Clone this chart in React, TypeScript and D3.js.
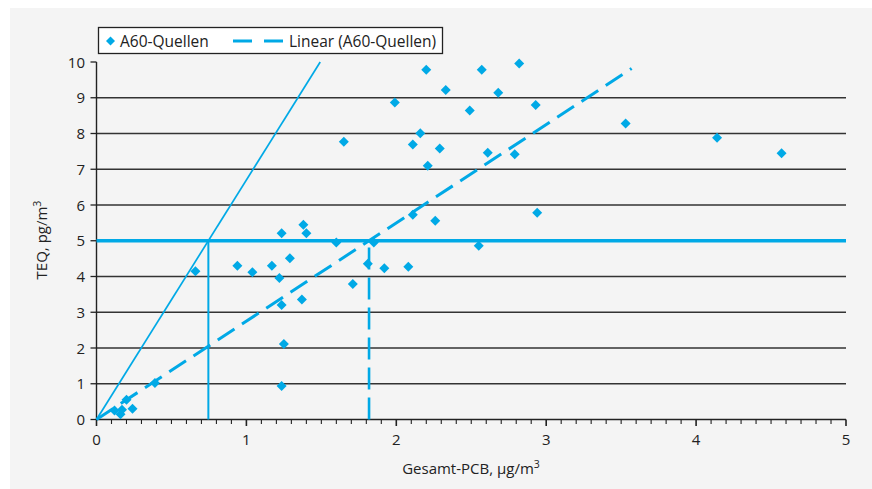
import * as d3 from 'd3';
import { useRef, useEffect } from 'react';

// Gesamt-PCB (µg/m3) vs TEQ (pg/m3) for the A60 sources
const pcb: number[] = [0.12, 0.16, 0.17, 0.20, 0.24, 0.39, 0.66, 0.94, 1.04, 1.17, 1.22, 1.235, 1.29, 1.38, 1.40, 1.235, 1.37, 1.25, 1.235, 1.60, 1.85, 1.81, 1.71, 1.92, 2.08, 2.20, 2.57, 2.82, 2.33, 2.68, 1.99, 2.49, 2.93, 3.53, 1.65, 2.16, 2.11, 2.29, 2.61, 2.79, 2.21, 2.11, 2.26, 2.94, 2.55, 4.14, 4.57];
const teq: number[] = [0.25, 0.15, 0.27, 0.55, 0.30, 1.02, 4.15, 4.30, 4.12, 4.30, 3.96, 5.21, 4.51, 5.45, 5.21, 3.20, 3.36, 2.11, 0.94, 4.95, 4.95, 4.36, 3.79, 4.23, 4.27, 9.78, 9.78, 9.96, 9.22, 9.14, 8.87, 8.64, 8.80, 8.28, 7.77, 8.01, 7.69, 7.58, 7.46, 7.42, 7.10, 5.73, 5.56, 5.78, 4.86, 7.88, 7.45];

const xTicks = [0, 1, 2, 3, 4, 5];
const yTicks = [0, 1, 2, 3, 4, 5, 6, 7, 8, 9, 10];

// linear fit through origin and the steep reference line
const trendSlope = 2.75;
const trendMaxX = 3.57;
const refSlope = 6.7;
const limitTEQ = 5;

const BLUE = '#00a9e6';
const FONT = '"Open Sans", sans-serif';

const Chart = () => {
	const ref: any = useRef();
	const W = 872, H = 489;
	const x = d3.scaleLinear().domain([0, 5]).range([96.5, 846]);
	const y = d3.scaleLinear().domain([0, 10]).range([419.5, 62]);

	useEffect(() => {
		const svg = d3.select(ref.current);
		svg.selectAll('*').remove();

		// panel
		svg.append('rect').attr('x', 10).attr('y', 8).attr('width', W - 10).attr('height', 481).attr('fill', '#f4f4f4');

		// gridlines
		svg.append('g').selectAll('line')
			.data(yTicks.filter(d => d > 0 && d < 10))
			.enter().append('line')
			.attr('x1', x(0)).attr('x2', x(5))
			.attr('y1', d => y(d)).attr('y2', d => y(d))
			.attr('stroke', '#333').attr('stroke-width', 1.3);

		// y axis
		svg.append('line').attr('x1', x(0)).attr('x2', x(0)).attr('y1', y(0)).attr('y2', y(10))
			.attr('stroke', '#222').attr('stroke-width', 1.4);
		svg.append('g').selectAll('line').data(yTicks).enter().append('line')
			.attr('x1', x(0) - 6).attr('x2', x(0))
			.attr('y1', d => y(d)).attr('y2', d => y(d))
			.attr('stroke', '#222').attr('stroke-width', 1.3);
		svg.append('g').selectAll('text').data(yTicks).enter().append('text')
			.attr('x', 85).attr('y', d => y(d) + 5.5)
			.attr('text-anchor', 'end')
			.style('font-family', FONT).style('font-size', '15px').attr('fill', '#222')
			.text(d => d);

		// x axis
		svg.append('line').attr('x1', x(0)).attr('x2', x(5)).attr('y1', y(0)).attr('y2', y(0))
			.attr('stroke', '#222').attr('stroke-width', 1.4);
		const minor = d3.range(0, 51).map(i => i / 10);
		svg.append('g').selectAll('line').data(minor).enter().append('line')
			.attr('x1', d => x(d)).attr('x2', d => x(d))
			.attr('y1', y(0)).attr('y2', (d, i) => y(0) + (i % 10 === 0 ? 6.5 : 4.5))
			.attr('stroke', '#222').attr('stroke-width', (d, i) => i % 10 === 0 ? 1.6 : 1.1);
		svg.append('g').selectAll('text').data(xTicks).enter().append('text')
			.attr('x', d => x(d)).attr('y', 445)
			.attr('text-anchor', 'middle')
			.style('font-family', FONT).style('font-size', '15px').attr('fill', '#222')
			.text(d => d);

		// axis titles
		const xt = svg.append('text').attr('x', 471).attr('y', 474).attr('text-anchor', 'middle')
			.style('font-family', FONT).style('font-size', '15px').attr('fill', '#222');
		xt.append('tspan').text('Gesamt-PCB, µg/m');
		xt.append('tspan').attr('dy', -6).style('font-size', '10.5px').text('3');
		const yt = svg.append('text').attr('transform', `translate(47,${240}) rotate(-90)`).attr('text-anchor', 'middle')
			.style('font-family', FONT).style('font-size', '15px').attr('fill', '#222');
		yt.append('tspan').text('TEQ, pg/m');
		yt.append('tspan').attr('dy', -6).style('font-size', '10.5px').text('3');

		// reference lines
		const refX = limitTEQ / refSlope;
		const trendX = limitTEQ / trendSlope;
		svg.append('line').attr('x1', x(0)).attr('y1', y(0)).attr('x2', x(10 / refSlope)).attr('y2', y(10))
			.attr('stroke', BLUE).attr('stroke-width', 1.7);
		svg.append('line').attr('x1', x(refX)).attr('x2', x(refX)).attr('y1', y(0)).attr('y2', y(limitTEQ))
			.attr('stroke', BLUE).attr('stroke-width', 2);
		svg.append('line').attr('x1', x(trendX)).attr('x2', x(trendX)).attr('y1', y(0)).attr('y2', y(limitTEQ))
			.attr('stroke', BLUE).attr('stroke-width', 2.6).attr('stroke-dasharray', '22,8');
		svg.append('line').attr('x1', x(0)).attr('x2', x(5)).attr('y1', y(limitTEQ)).attr('y2', y(limitTEQ))
			.attr('stroke', BLUE).attr('stroke-width', 3.4);

		// trend line
		svg.append('line').attr('x1', x(0)).attr('y1', y(0)).attr('x2', x(trendMaxX)).attr('y2', y(trendSlope * trendMaxX))
			.attr('stroke', BLUE).attr('stroke-width', 3).attr('stroke-dasharray', '20,9');

		// points
		const diamond = 'M0,-5L5,0L0,5L-5,0Z';
		svg.append('g').selectAll('path').data(pcb).enter().append('path')
			.attr('d', diamond)
			.attr('transform', (d, i) => `translate(${x(d)},${y(teq[i])})`)
			.attr('fill', BLUE);

		// legend
		const lg = svg.append('g');
		lg.append('rect').attr('x', 98.5).attr('y', 27.5).attr('width', 344).attr('height', 26)
			.attr('fill', '#fff').attr('stroke', '#222').attr('stroke-width', 1.3);
		lg.append('path').attr('d', 'M0,-4.5L4.5,0L0,4.5L-4.5,0Z').attr('transform', 'translate(110.5,41)').attr('fill', BLUE);
		lg.append('text').attr('x', 120).attr('y', 46.5)
			.style('font-family', FONT).style('font-size', '15.5px').attr('fill', '#222').text('A60-Quellen');
		lg.append('line').attr('x1', 233).attr('x2', 284).attr('y1', 41).attr('y2', 41)
			.attr('stroke', BLUE).attr('stroke-width', 3).attr('stroke-dasharray', '19,12');
		lg.append('text').attr('x', 289).attr('y', 46.5)
			.style('font-family', FONT).style('font-size', '15.5px').attr('fill', '#222').text('Linear (A60-Quellen)');
	}, []);

	return (
		<svg ref={ref} width={W} height={H} style={{ position: 'absolute', left: 0, top: 0 }}></svg>
	);
};

export default function App() {
	return <Chart />;
}
